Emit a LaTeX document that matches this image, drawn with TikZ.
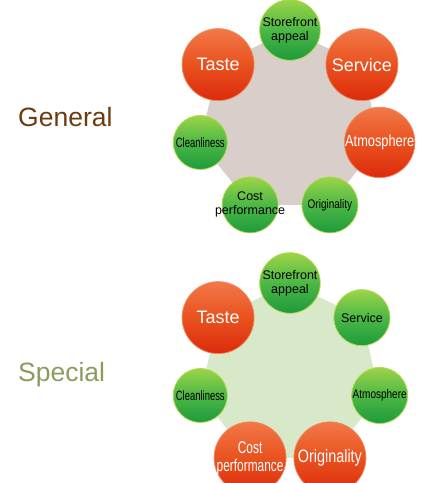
\documentclass[tikz,border=0pt]{standalone}
\usepackage{fontspec}
\setmainfont{Liberation Sans}
\newfontfamily\condfont[FakeStretch=0.8]{Liberation Sans}
\newfontfamily\tightfont[FakeStretch=0.7]{Liberation Sans}
\usetikzlibrary{backgrounds}

\definecolor{redtop}{HTML}{F27848}
\definecolor{redmid}{HTML}{E9521F}
\definecolor{redbot}{HTML}{DC2A0C}
\definecolor{redrim}{HTML}{EE8A5E}
\definecolor{greentop}{HTML}{9CD448}
\definecolor{greenmid}{HTML}{4CB845}
\definecolor{greenbot}{HTML}{1E9A3C}
\definecolor{greenrim}{HTML}{B6D84C}
\definecolor{genfill}{HTML}{D8CFCB}
\definecolor{spefill}{HTML}{D8E9C9}
\definecolor{gentext}{HTML}{6B3B0E}
\definecolor{spetext}{HTML}{8C9B5B}

% a line of text that may run over the ball's edge
\newcommand\runover[1]{\makebox[0pt]{#1}}

\tikzset{
  ball/.style={circle, inner sep=0pt, align=center, line width=0.8pt},
  redball/.style={ball, minimum size=72pt, top color=redtop, bottom color=redbot,
    middle color=redmid, draw=redrim, text=white, font=\fontsize{18}{18}\selectfont},
  greenball/.style={ball, minimum size=56pt, top color=greentop, bottom color=greenbot,
    middle color=greenmid, draw=greenrim, text=black, font=\fontsize{12.5}{14}\selectfont},
  grouptitle/.style={anchor=base west, inner sep=0pt, font=\fontsize{26.5}{30}\selectfont},
}

\begin{document}
\begin{tikzpicture}[x=1pt,y=1pt]
  \useasboundingbox (0,0) rectangle (434,483);
  \clip (0,0) rectangle (434,483);

  \node[grouptitle, text=gentext] (general) at (18,356) {General};
  \node[grouptitle, text=spetext] (special) at (18,101) {Special};

  % general
  \begin{scope}[shift={(290,361)}]
    \draw
      (90.0:92) node[greenball] (g0) {Storefront\\appeal}
      (38.57:92) node[redball] (g1) {Service}
      (-12.86:92) node[redball, minimum size=70pt, font=\condfont\fontsize{16}{16}\selectfont] (g2) {Atmosphere}
      (-64.29:92) node[greenball, font=\condfont\fontsize{12.5}{14}\selectfont] (g3) {Originality}
      (-115.71:92) node[greenball] (g4) {\runover{Cost}\\\runover{performance}}
      (-167.14:92) node[greenball, minimum size=54pt, font=\tightfont\fontsize{13.5}{14}\selectfont] (g5) {Cleanliness}
      (141.43:92) node[redball] (g6) {Taste};
  \end{scope}

  % special
  \begin{scope}[shift={(290,108)}]
    \draw
      (90.0:92) node[greenball] (s0) {Storefront\\appeal}
      (38.57:92) node[greenball] (s1) {Service}
      (-12.86:92) node[greenball, font=\condfont\fontsize{12.5}{14}\selectfont] (s2) {Atmosphere}
      (-64.29:92) node[redball, font=\condfont\fontsize{18}{18}\selectfont] (s3) {Originality}
      (-115.71:92) node[redball, font=\tightfont\fontsize{17}{18}\selectfont] (s4) {\runover{Cost}\\\runover{performance}}
      (-167.14:92) node[greenball, minimum size=54pt, font=\tightfont\fontsize{13.5}{14}\selectfont] (s5) {Cleanliness}
      (141.43:92) node[redball] (s6) {Taste};
  \end{scope}

  \begin{scope}[on background layer]
    \fill[genfill] (g0.center) -- (g1.center) -- (g2.center) -- (g3.center)
      -- (g4.center) -- (g5.center) -- (g6.center) -- cycle;
    \fill[spefill] (s0.center) -- (s1.center) -- (s2.center) -- (s3.center)
      -- (s4.center) -- (s5.center) -- (s6.center) -- cycle;
  \end{scope}
\end{tikzpicture}
\end{document}
